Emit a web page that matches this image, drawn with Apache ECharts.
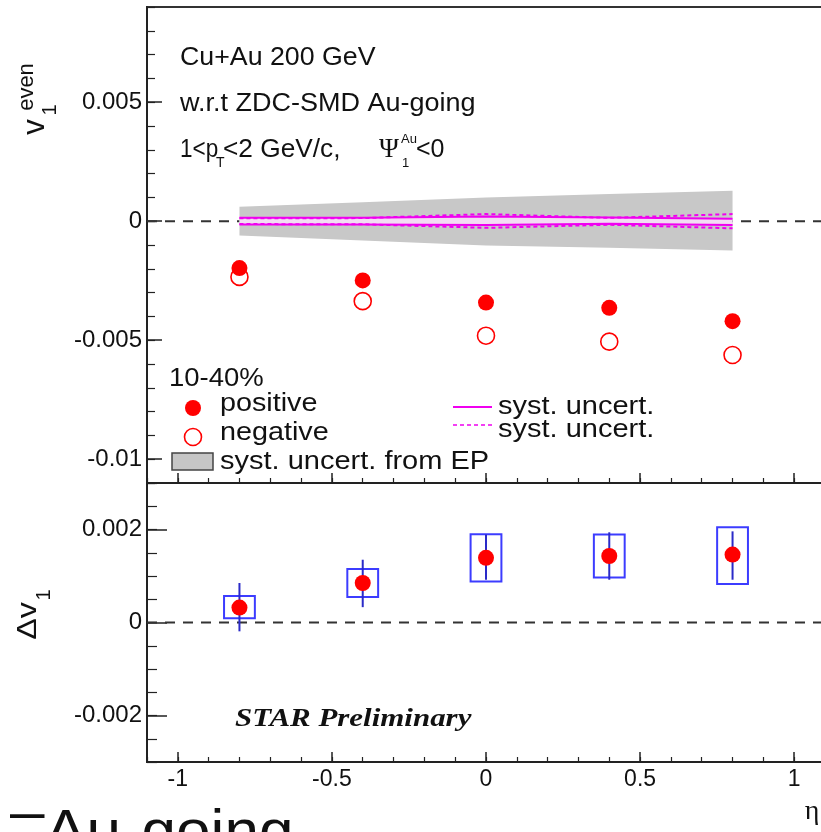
<!DOCTYPE html>
<html>
<head>
<meta charset="utf-8">
<script src="https://cdn.jsdelivr.net/npm/echarts@6/dist/echarts.min.js"></script>
<style>
  html, body { margin: 0; padding: 0; background: #ffffff; overflow: hidden; }
  /* the frame's right edge sits just past the visible window */
  #chart { width: 830px; height: 832px; }
</style>
</head>
<body>
<div id="chart"></div>
<script>
// Pseudorapidity bins
const eta = [-0.8, -0.4, 0, 0.4, 0.8];

// v1^even, positive and negative particles (10-40%)
const v1Positive = [-0.00197, -0.00249, -0.00342, -0.00364, -0.00420];
const v1Negative = [-0.00234, -0.00336, -0.00481, -0.00506, -0.00562];

// Event-plane systematic band
const epBandLow  = [-0.00060, -0.00081, -0.00102, -0.00112, -0.00123];
const epBandHigh = [ 0.00061,  0.00080,  0.00100,  0.00114,  0.00128];

// Systematic uncertainty curves (solid / dashed)
const systSolidHigh = [ 0.00014,  0.00014,  0.00020,  0.00016,  0.00010];
const systSolidLow  = [-0.00014, -0.00014, -0.00016, -0.00011, -0.00016];
const systDashHigh  = [ 0.00012,  0.00013,  0.00030,  0.00014,  0.00030];
const systDashLow   = [-0.00012, -0.00013, -0.00028, -0.00015, -0.00030];

// Delta v1 with statistical bars and systematic boxes
const deltaV1       = [0.00032, 0.00085, 0.00139, 0.00143, 0.00146];
const deltaStatLow  = [-0.00019, 0.00033, 0.00092, 0.00092, 0.00092];
const deltaStatHigh = [0.00085, 0.00135, 0.00189, 0.00194, 0.00196];
const deltaSystLow  = [0.00009, 0.00055, 0.00088, 0.00097, 0.00083];
const deltaSystHigh = [0.00057, 0.00115, 0.00190, 0.00189, 0.00205];

// Axis ticks
const xMajorTicks = [-1, -0.5, 0, 0.5, 1];
const yTopMajorTicks = [-0.01, -0.005, 0, 0.005];
const yBottomMajorTicks = [-0.002, 0, 0.002];

const BOX_HALF_WIDTH = 0.05;
const SANS = '"Liberation Sans", Arial, Helvetica, sans-serif';
const SERIF = '"Liberation Serif", "Times New Roman", serif';
const AXIS_COLOR = '#222';
const MAGENTA = '#f000f0';

const chart = echarts.init(document.getElementById('chart'), null, { renderer: 'canvas' });

function majorX(gridIndex, showLabels) {
  return {
    type: 'value', gridIndex, min: -1.1, max: 1.1, position: 'bottom',
    axisLine: { show: true, onZero: false, lineStyle: { color: AXIS_COLOR, width: 2 } },
    axisTick: { show: true, inside: true, length: 10, customValues: xMajorTicks,
      lineStyle: { color: AXIS_COLOR, width: 1.5 } },
    axisLabel: { show: showLabels, customValues: xMajorTicks, margin: 6,
      formatter: v => String(v), fontFamily: SANS, fontSize: 23, color: '#111' },
    splitLine: { show: false }
  };
}
function minorX(gridIndex) {
  return {
    type: 'value', gridIndex, min: -1.1, max: 1.1, interval: 0.1, position: 'bottom',
    axisLine: { show: false, onZero: false },
    axisTick: { show: true, inside: true, length: 5, lineStyle: { color: AXIS_COLOR, width: 1.2 } },
    axisLabel: { show: false }, splitLine: { show: false }
  };
}
function majorY(gridIndex, min, max, ticks, len) {
  return {
    type: 'value', gridIndex, min, max, position: 'left',
    axisLine: { show: true, onZero: false, lineStyle: { color: AXIS_COLOR, width: 2 } },
    axisTick: { show: true, inside: true, length: len, customValues: ticks,
      lineStyle: { color: AXIS_COLOR, width: 1.5 } },
    axisLabel: { show: true, customValues: ticks, margin: 5,
      formatter: v => String(v), fontFamily: SANS, fontSize: 24, color: '#111' },
    splitLine: { show: false }
  };
}
function minorY(gridIndex, min, max, interval, len) {
  return {
    type: 'value', gridIndex, min, max, interval, position: 'left',
    axisLine: { show: false, onZero: false },
    axisTick: { show: true, inside: true, length: len, lineStyle: { color: AXIS_COLOR, width: 1.2 } },
    axisLabel: { show: false }, splitLine: { show: false }
  };
}

function zeroLine(xi, yi) {
  return {
    type: 'line', xAxisIndex: xi, yAxisIndex: yi, silent: true, z: 1,
    data: [[-1.1, 0], [1.1, 0]], symbol: 'none',
    lineStyle: { color: '#333', width: 2, type: [10, 8] }
  };
}
function curve(values, dashed) {
  return {
    type: 'line', xAxisIndex: 0, yAxisIndex: 0, silent: true, z: 4,
    data: eta.map((x, i) => [x, values[i]]), symbol: 'none',
    lineStyle: { color: MAGENTA, width: 2, type: dashed ? [4, 3] : 'solid' }
  };
}
function bandSeries(low, high, fill, z) {
  return {
    type: 'custom', xAxisIndex: 0, yAxisIndex: 0, silent: true, z,
    data: eta.map((x, i) => [x, low[i], high[i]]),
    encode: { x: 0, y: [1, 2] },
    renderItem(params, api) {
      if (params.dataIndex !== 0) return null;
      const upper = eta.map((x, i) => api.coord([x, high[i]]));
      const lower = eta.map((x, i) => api.coord([x, low[i]])).reverse();
      return { type: 'polygon', shape: { points: upper.concat(lower) }, style: { fill } };
    }
  };
}

function txt(x, y, text, size, opts) {
  opts = opts || {};
  return {
    type: 'text', x, y, z: 20, scaleX: opts.scaleX || 1, scaleY: opts.scaleY || 1,
    rotation: opts.rotation || 0,
    style: {
      text, fill: opts.color || '#111',
      font: (opts.style || 'normal') + ' ' + (opts.weight || 'normal') + ' ' + size + 'px ' + (opts.family || SANS),
      align: opts.align || 'left', verticalAlign: 'middle',
      textAlign: opts.align || 'left', textVerticalAlign: 'middle'
    }
  };
}

const graphics = [
  // Upper-left annotation
  txt(180, 58, 'Cu+Au 200 GeV', 25, { scaleX: 1.07 }),
  txt(180, 104, 'w.r.t ZDC-SMD Au-going', 25, { scaleX: 1.08 }),
  txt(180, 150, '1<p', 25, { scaleX: 0.9 }),
  txt(216, 163, 'T', 14),
  txt(223, 150, '<2 GeV/c,', 25, { scaleX: 1.05 }),
  txt(379, 150, 'Ψ', 27, { family: SERIF }),
  txt(401, 139, 'Au', 13),
  txt(402, 163, '1', 13),
  txt(416, 150, '<0', 25, { scaleX: 1.0 }),

  // Legend
  txt(169, 379, '10-40%', 25, { scaleX: 1.1 }),
  { type: 'circle', z: 20, shape: { cx: 193, cy: 408, r: 8 }, style: { fill: '#ff0000' } },
  txt(220, 404, 'positive', 25, { scaleX: 1.15 }),
  { type: 'circle', z: 20, shape: { cx: 193, cy: 437, r: 8.5 },
    style: { fill: '#ffffff', stroke: '#ff0000', lineWidth: 1.6 } },
  txt(220, 433, 'negative', 25, { scaleX: 1.15 }),
  { type: 'rect', z: 20, shape: { x: 172, y: 453, width: 41, height: 17 },
    style: { fill: '#c6c6c6', stroke: '#444', lineWidth: 1.5 } },
  txt(220, 462, 'syst. uncert. from EP', 25, { scaleX: 1.16 }),
  { type: 'line', z: 20, shape: { x1: 453, y1: 407, x2: 492, y2: 407 },
    style: { stroke: MAGENTA, lineWidth: 2 } },
  txt(498, 407, 'syst. uncert.', 25, { scaleX: 1.16 }),
  { type: 'line', z: 20, shape: { x1: 453, y1: 425, x2: 492, y2: 425 },
    style: { stroke: MAGENTA, lineWidth: 1.5, lineDash: [4, 3] } },
  txt(498, 430, 'syst. uncert.', 25, { scaleX: 1.16 }),

  // Axis titles
  txt(35, 127, 'v', 31, { rotation: Math.PI / 2, align: 'center' }),
  txt(27, 87, 'even', 22, { rotation: Math.PI / 2, align: 'center' }),
  txt(50, 110, '1', 20, { rotation: Math.PI / 2, align: 'center' }),
  txt(28, 621, 'Δv', 28, { rotation: Math.PI / 2, align: 'center', scaleX: 1.15 }),
  txt(44, 595, '1', 20, { rotation: Math.PI / 2, align: 'center' }),
  txt(812, 812, 'η', 28, { family: SERIF, align: 'center' }),

  // Watermark
  txt(235, 719, 'STAR Preliminary', 26, { family: SERIF, weight: 'bold', style: 'italic', scaleX: 1.19 }),

  // Caption fragment below the frame
  txt(10, 815, '–', 58, { scaleX: 1.07 }),
  txt(45, 834, 'Au-going', 58, { scaleX: 1.07 })
];

const option = {
  backgroundColor: '#ffffff',
  animation: false,
  grid: [
    { left: 147, top: 7, width: 678, height: 476, show: true, borderColor: '#333', borderWidth: 2, backgroundColor: 'transparent' },
    { left: 147, top: 483, width: 678, height: 279, show: true, borderColor: '#333', borderWidth: 2, backgroundColor: 'transparent' }
  ],
  xAxis: [majorX(0, false), minorX(0), majorX(1, true), minorX(1)],
  yAxis: [
    majorY(0, -0.011, 0.009, yTopMajorTicks, 15),
    minorY(0, -0.011, 0.009, 0.001, 8),
    majorY(1, -0.003, 0.003, yBottomMajorTicks, 20),
    minorY(1, -0.003, 0.003, 0.0005, 10)
  ],
  series: [
    // Upper panel
    zeroLine(0, 0),
    bandSeries(epBandLow, epBandHigh, '#c8c8c8', 2),
    bandSeries(systSolidLow, systSolidHigh, '#f3dcf3', 3),
    curve(systSolidHigh, false),
    curve(systSolidLow, false),
    curve(systDashHigh, true),
    curve(systDashLow, true),
    {
      name: 'negative', type: 'scatter', xAxisIndex: 0, yAxisIndex: 0, z: 5,
      data: eta.map((x, i) => [x, v1Negative[i]]),
      symbol: 'circle', symbolSize: 17,
      itemStyle: { color: '#ffffff', borderColor: '#ff0000', borderWidth: 1.6, opacity: 1 }
    },
    {
      name: 'positive', type: 'scatter', xAxisIndex: 0, yAxisIndex: 0, z: 6,
      data: eta.map((x, i) => [x, v1Positive[i]]),
      symbol: 'circle', symbolSize: 16,
      itemStyle: { color: '#ff0000', opacity: 1 }
    },

    // Lower panel
    zeroLine(2, 2),
    {
      type: 'custom', xAxisIndex: 2, yAxisIndex: 2, z: 3, silent: true,
      data: eta.map((x, i) => [x, deltaSystLow[i], deltaSystHigh[i]]),
      encode: { x: 0, y: [1, 2] },
      renderItem(params, api) {
        const x = api.value(0), lo = api.value(1), hi = api.value(2);
        const p1 = api.coord([x - BOX_HALF_WIDTH, hi]);
        const p2 = api.coord([x + BOX_HALF_WIDTH, lo]);
        return { type: 'rect',
          shape: { x: p1[0], y: p1[1], width: p2[0] - p1[0], height: p2[1] - p1[1] },
          style: { fill: 'transparent', stroke: '#3c3cff', lineWidth: 2 } };
      }
    },
    {
      type: 'custom', xAxisIndex: 2, yAxisIndex: 2, z: 4, silent: true,
      data: eta.map((x, i) => [x, deltaStatLow[i], deltaStatHigh[i]]),
      encode: { x: 0, y: [1, 2] },
      renderItem(params, api) {
        const x = api.value(0);
        const a = api.coord([x, api.value(1)]);
        const b = api.coord([x, api.value(2)]);
        return { type: 'line', shape: { x1: a[0], y1: a[1], x2: b[0], y2: b[1] },
          style: { stroke: '#2a2ac8', lineWidth: 2 } };
      }
    },
    {
      name: 'delta', type: 'scatter', xAxisIndex: 2, yAxisIndex: 2, z: 6,
      data: eta.map((x, i) => [x, deltaV1[i]]),
      symbol: 'circle', symbolSize: 16,
      itemStyle: { color: '#ff0000', opacity: 1 }
    }
  ],
  graphic: { elements: graphics }
};

chart.setOption(option);
</script>
</body>
</html>
